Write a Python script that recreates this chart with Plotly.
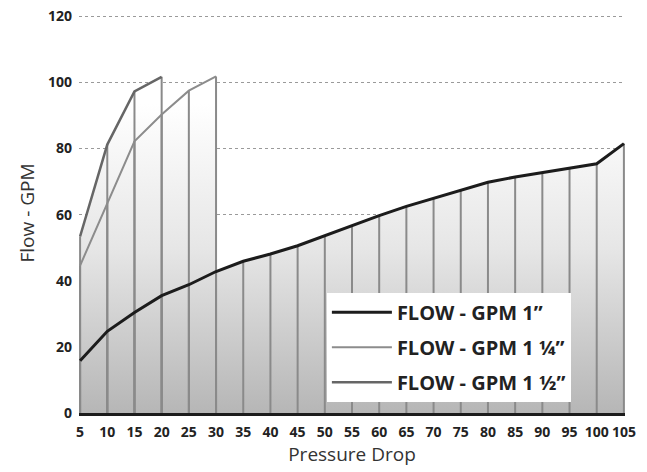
import plotly.graph_objects as go

# ---- data ----
pressure_1 = [5, 10, 15, 20, 25, 30, 35, 40, 45, 50, 55, 60, 65, 70, 75, 80, 85, 90, 95, 100, 105]
flow_1 = [15.8, 24.7, 30.4, 35.5, 38.8, 42.8, 45.9, 48.1, 50.6, 53.6, 56.8, 59.7, 62.5, 65.0,
          67.4, 69.8, 71.4, 72.8, 74.1, 75.4, 81.5]
pressure_125 = [5, 10, 15, 20, 25, 30]
flow_125 = [44.6, 63.5, 82.2, 90.3, 97.5, 101.8]
pressure_15 = [5, 10, 15, 20]
flow_15 = [53.4, 81.2, 97.3, 101.7]

series_names = ["FLOW - GPM 1\u201d", "FLOW - GPM 1 \u00bc\u201d", "FLOW - GPM 1 \u00bd\u201d"]
x_ticks = list(range(5, 110, 5))
y_ticks = [0, 20, 40, 60, 80, 100, 120]

series = [
    (pressure_1, flow_1, "#1c1c1c", 3),
    (pressure_125, flow_125, "#8c8c8c", 2),
    (pressure_15, flow_15, "#666666", 2.5),
]

FONT = "Open Sans"
fig = go.Figure()

# gradient fills
for xs, ys, _, _ in series:
    fig.add_trace(go.Scatter(
        x=xs, y=ys, mode="none", fill="tozeroy",
        fillgradient=dict(type="vertical",
                          colorscale=[[0, "#b6b6b6"], [0.45, "#e6e6e6"], [0.85, "#ffffff"], [1, "#ffffff"]],
                          start=0, stop=110),
        showlegend=False, hoverinfo="skip"))

# vertical drop lines
for xs, ys, _, _ in series:
    dx, dy = [], []
    for xv, yv in zip(xs, ys):
        dx += [xv, xv, None]
        dy += [0, yv, None]
    fig.add_trace(go.Scatter(x=dx, y=dy, mode="lines",
                             line=dict(color="#8a8a8a", width=2),
                             showlegend=False, hoverinfo="skip"))

# series lines
for (xs, ys, col, w), name in zip(series, series_names):
    fig.add_trace(go.Scatter(x=xs, y=ys, mode="lines", name=name,
                             line=dict(color=col, width=w), legendgroup=name))

fig.update_layout(
    width=647, height=472,
    margin=dict(l=79, r=22, t=13, b=59),
    plot_bgcolor="white", paper_bgcolor="white",
    font=dict(family=FONT, color="#222222"),
    showlegend=True,
    legend=dict(x=0.454, y=0.028, xanchor="left", yanchor="bottom",
                bgcolor="white", borderwidth=0,
                font=dict(family=FONT, size=20, color="#222222", weight="bold"),
                tracegroupgap=6, itemwidth=60),
)
fig.update_xaxes(range=[4.8, 105.2], tickvals=x_ticks, ticktext=[str(v) for v in x_ticks],
                 automargin=False, ticklabeloverflow="allow",
                 showgrid=False, zeroline=False, showline=True, linecolor="#1c1c1c", linewidth=3,
                 ticks="", ticklabelstandoff=4,
                 tickfont=dict(family=FONT, size=14, color="#222222", weight="bold"),
                 title=dict(text="Pressure Drop", font=dict(family=FONT, size=19, color="#333333"), standoff=6))
fig.update_yaxes(range=[0, 121], tickvals=y_ticks, showgrid=True, gridcolor="#9a9a9a", gridwidth=1,
                 automargin=False, ticklabeloverflow="allow",
                 griddash="3px,3px", zeroline=False, showline=False, ticks="",
                 ticklabelstandoff=6,
                 tickfont=dict(family=FONT, size=14, color="#222222", weight="bold"),
                 title=dict(text="Flow - GPM", font=dict(family=FONT, size=19, color="#333333"), standoff=8))

# remove the page's default 8px body margin so the figure fills the window exactly
fig.write_html("out.html", config={"displayModeBar": False},
               post_script="document.body.style.margin='0';")
